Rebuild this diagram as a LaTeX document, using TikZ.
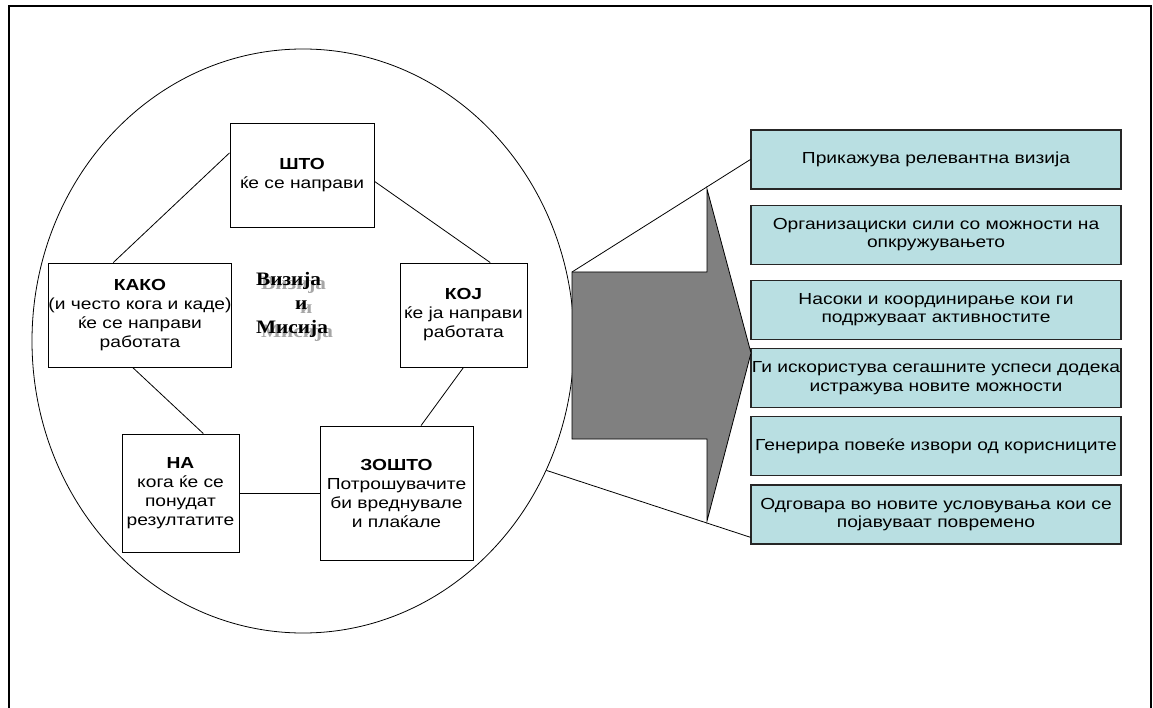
\documentclass[tikz,border=0pt]{standalone}
\usepackage{fontspec}
\setmainfont{Liberation Sans}[FakeStretch=1.2]
\newfontfamily\titlefont{Liberation Serif}[FakeStretch=1.12]
\usetikzlibrary{positioning,shapes.geometric}
\definecolor{boxteal}{RGB}{185,223,226}
\definecolor{arrowgray}{RGB}{128,128,128}
\tikzset{qbox/.style={draw, line width=0.9pt, align=center, inner sep=0pt,
		font=\fontsize{16}{19}\selectfont},
	rbox/.style={draw=black!85, line width=1.2pt, fill=boxteal,
		minimum width=370pt, minimum height=59pt, align=center, inner sep=0pt,
		font=\fontsize{16}{18.5}\selectfont},
	link/.style={draw, line width=0.8pt},
	titletext/.style={align=left, font=\titlefont\bfseries\fontsize{19}{24}\selectfont}}

\begin{document}
\begin{tikzpicture}[x=1pt,y=-1pt]
	\useasboundingbox (0,0) rectangle (1153,708);
	\draw[line width=1.6pt] (9,708) -- (9,6) -- (1151,6) -- (1151,708);
	\node (oval) [draw, line width=0.8pt, ellipse, inner sep=0pt,
		minimum width=542pt, minimum height=584pt] at (303,341) {};
	% five questions round the oval
	\node (sto) [qbox, minimum width=144pt, minimum height=104pt] at (302,175)
		{\textbf{ШТО}\\ќе се направи};
	\node (kako) [qbox, minimum width=180pt, minimum height=104pt] at (140,315)
		{\textbf{КАКО}\\(и често кога и каде)\\ќе се направи\\работата};
	\node (koj) [qbox, minimum width=127pt, minimum height=104pt] at (463.5,315)
		{\textbf{КОЈ}\\ќе ја направи\\работата};
	\node (na) [qbox, minimum width=117pt, minimum height=118pt] at (180.5,493)
		{\textbf{НА}\\кога ќе се\\понудат\\резултатите};
	\node (zosto) [qbox, minimum width=153pt, minimum height=134pt] at (396.5,493)
		{\textbf{ЗОШТО}\\Потрошувачите\\би вреднувале\\и плаќале};
	\draw[link] (sto.163) -- (kako.117);
	\draw[link] (sto.-5.6) -- (koj.63);
	\draw[link] (kako.-98.7) -- (na.69);
	\draw[link] (koj.south) -- (zosto.70.7);
	\draw[link] (na.east) -- (zosto.west);
	% title with its shadow
	\node (shadow) [titletext, text=black!35] at (297,309)
		{Визија\\\hspace*{39pt}и\\Мисија};
	\node (title) [titletext] at (292,305)
		{Визија\\\hspace*{39pt}и\\Мисија};
	% results on the right
	\node (r1) [rbox] at (936,159.5) {Прикажува релевантна визија};
	\node (r2) [rbox, below=15pt of r1] {Организациски сили со можности на\\опкружувањето};
	\node (r3) [rbox, below=15pt of r2] {Насоки и координирање кои ги\\подржуваат активностите};
	\node (r4) [rbox, below=8pt of r3] {Ги искористува сегашните успеси додека\\истражува новите можности};
	\node (r5) [rbox, below=8pt of r4] {Генерира повеќе извори од корисниците};
	\node (r6) [rbox, below=8pt of r5] {Одговара во новите условувања кои се\\појавуваат повремено};
	% big arrow
	\coordinate (tail) at (572,272);
	\draw[link] (tail) -- (r1.west);
	\draw[link] (oval.-28) -- (r6.187);
	\filldraw[fill=arrowgray, line width=0.8pt] (tail) -- (707,272) -- (707,189)
		-- (751,353) -- (707,521) -- (707,439) -- (572,439) -- cycle;
\end{tikzpicture}
\end{document}
